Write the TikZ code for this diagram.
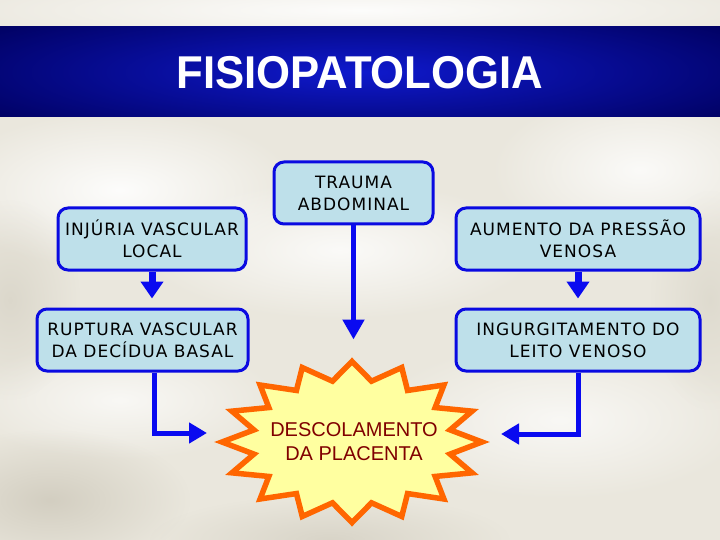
\documentclass[tikz,border=0pt]{standalone}
\usepackage{fontspec}
\setmainfont{Liberation Sans}
\newfontfamily\boxfont[LetterSpace=6]{DejaVu Sans}
\usetikzlibrary{arrows.meta,calc,fadings}
\tikzfading[name=softfade, inner color=transparent!0, outer color=transparent!100]
\definecolor{bgcream}{RGB}{234,231,221}
\definecolor{bgdark}{RGB}{205,200,186}
\definecolor{titlenavy}{RGB}{0,0,95}
\definecolor{titleblue}{RGB}{15,25,205}
\definecolor{boxfill}{RGB}{190,224,234}
\definecolor{boxline}{RGB}{10,10,225}
\definecolor{arrowblue}{RGB}{10,10,240}
\definecolor{starfill}{RGB}{255,255,160}
\definecolor{starline}{RGB}{255,102,0}
\definecolor{startext}{RGB}{128,0,0}
\begin{document}
\begin{tikzpicture}[x=1pt,y=-1pt,
  box/.style={draw=boxline, fill=boxfill, line width=3pt, rounded corners=10pt,
    inner sep=0pt, minimum height=62pt, align=center,
    font=\boxfont\fontsize{17}{22}\selectfont},
  bigarrow/.style={draw=arrowblue, line width=7pt, -{Triangle[width=22pt,length=17pt]}},
  midarrow/.style={draw=arrowblue, line width=5pt, -{Triangle[width=21pt,length=20pt]}},
  elbow/.style={draw=arrowblue, line width=5pt, line join=miter, -{Triangle[width=20pt,length=18pt]}},
  swirl/.style={path fading=softfade}]
\useasboundingbox (0,0) rectangle (720,540);
% background
\fill[bgcream] (0,0) rectangle (720,540);
\begin{scope}
\clip (0,0) rectangle (720,540);
\fill[white, opacity=0.9, swirl] (120,190) ellipse (180 and 80);
\fill[white, opacity=0.8, swirl] (340,250) ellipse (200 and 70);
\fill[white, opacity=0.8, swirl] (640,170) ellipse (150 and 80);
\fill[white, opacity=0.7, swirl] (560,420) ellipse (190 and 80);
\fill[white, opacity=0.7, swirl] (120,400) ellipse (160 and 60);
\fill[white, opacity=0.9, swirl] (360,10) ellipse (450 and 40);
\fill[bgdark, opacity=0.8, swirl] (50,500) ellipse (140 and 70);
\fill[bgdark, opacity=0.6, swirl] (330,540) ellipse (180 and 45);
\fill[bgdark, opacity=0.5, swirl] (10,300) ellipse (70 and 100);
\fill[bgdark, opacity=0.4, swirl] (710,300) ellipse (60 and 110);
\end{scope}
% title bar
\fill[titlenavy] (0,27) rectangle (720,117);
\begin{scope}
\clip (0,27) rectangle (720,117);
\shade[inner color=titleblue, outer color=titlenavy] (360,72) ellipse (470 and 80);
\end{scope}
\node[text=white, font=\bfseries\fontsize{46}{46}\selectfont] (title) at (360,73)
  {\scalebox{0.95}[1]{FISIOPATOLOGIA}};
% boxes
\node[box, minimum width=159pt] (trauma) at (353.5,193) {TRAUMA\\ABDOMINAL};
\node[box, minimum width=188pt] (injuria) at (152,239) {INJÚRIA VASCULAR\\LOCAL};
\node[box, minimum width=211pt] (ruptura) at (142.5,340) {RUPTURA VASCULAR\\DA DECÍDUA BASAL};
\node[box, minimum width=244pt] (aumento) at (578,239) {AUMENTO DA PRESSÃO\\VENOSA};
\node[box, minimum width=244pt] (ingurg) at (578,340) {INGURGITAMENTO DO\\LEITO VENOSO};
% star
\draw[starline, line width=5.5pt, fill=starfill, line join=miter]
  plot[samples at={0,...,31}, variable=\k]
  ({352+(1+0.3*(1-mod(\k,2)))*100*cos(90+\k*11.25)},
   {442-(1+0.3*(1-mod(\k,2)))*62*sin(90+\k*11.25)}) -- cycle;
\node[text=startext, font=\fontsize{20}{24}\selectfont, align=center] (descol)
  at (354,442) {DESCOLAMENTO\\DA PLACENTA};
% arrows
\coordinate (lt) at (207,433);
\coordinate (rt) at (501,434);
\draw[bigarrow] (injuria.south) -- ($(injuria.south |- ruptura.north)+(0,-9)$);
\draw[bigarrow] (aumento.south) -- ($(aumento.south |- ingurg.north)+(0,-9)$);
\draw[midarrow] (trauma.south) -- ($(trauma.south)+(0,114)$);
\draw[elbow] ($(ruptura.south)+(12,0)$) |- (lt);
\draw[elbow] (ingurg.south) |- (rt);
\end{tikzpicture}
\end{document}
